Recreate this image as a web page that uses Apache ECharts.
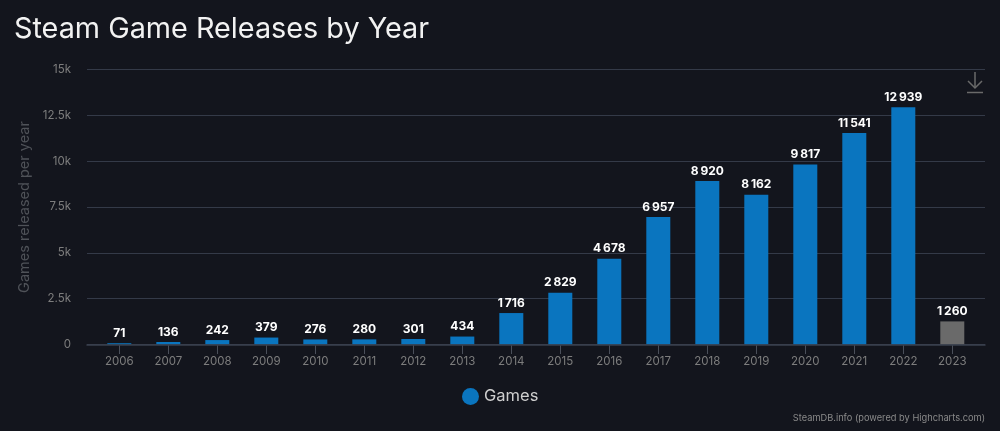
<!DOCTYPE html>
<html><head><meta charset="utf-8">
<style>html,body{margin:0;padding:0;background:#13151d}#c{width:1000px;height:431px}</style>
<script src="https://cdn.jsdelivr.net/npm/echarts@6/dist/echarts.min.js"></script>
</head><body><div id="c"></div>
<script>
const years = ['2006','2007','2008','2009','2010','2011','2012','2013','2014','2015','2016','2017','2018','2019','2020','2021','2022','2023'];
const games = [71,136,242,379,276,280,301,434,1716,2829,4678,6957,8920,8162,9817,11541,12939,1260];
const partialYear = '2023';
const fmt = v => String(v).replace(/\B(?=(\d{3})+$)/g, '\u2009');
const chart = echarts.init(document.getElementById('c'));
chart.setOption({
  backgroundColor:'#13151d',
  animation:false,
  textStyle:{fontFamily:'Inter'},
  title:[
    {text:'Steam Game Releases by Year',left:9,top:10,textStyle:{color:'#f2f2f2',fontSize:28.8,fontWeight:400,fontFamily:'Inter'}},
    {text:'SteamDB.info (powered by Highcharts.com)',right:10,top:409,textStyle:{color:'#8a8a8a',fontSize:9.25,fontWeight:400,fontFamily:'Inter'}}
  ],
  legend:{data:['Games'],left:457,top:383,icon:'circle',itemWidth:17,itemHeight:17,itemGap:5,
    textStyle:{color:'#cfcfcf',fontSize:16.5,fontFamily:'Inter'}},
  grid:[
    {left:87,right:15,top:69.5,bottom:86.5},
    {left:94.8,right:23.2,top:69.5,bottom:86.5},
    {left:119.3,right:48.2,top:345,height:9}
  ],
  xAxis:[
    {gridIndex:0,type:'value',min:0,max:1,z:3,splitLine:{show:false},
      axisLine:{show:true,onZero:false,lineStyle:{color:'#3a404e',width:1.5}},
      axisTick:{show:false},axisLabel:{show:false}},
    {gridIndex:1,type:'category',data:years,z:3,
      axisLine:{show:false,onZero:false},axisTick:{show:false},
      axisLabel:{color:'#7d7d7d',fontSize:11.5,margin:11,interval:0}},
    {gridIndex:2,type:'category',data:years,boundaryGap:false,
      axisLine:{show:false},axisTick:{show:false},axisLabel:{show:false},
      splitLine:{show:true,interval:0,lineStyle:{color:'#4a4f5a',width:1}}}
  ],
  yAxis:[
    {gridIndex:0,type:'value',min:0,max:15000,interval:2500,
      name:'Games released per year',nameLocation:'middle',nameGap:49,nameRotate:90,
      nameTextStyle:{color:'#4f5258',fontSize:14.5,fontFamily:'Inter'},
      axisLine:{show:false},axisTick:{show:false},
      splitLine:{lineStyle:{color:'#343a48',width:1}},
      axisLabel:{color:'#7d7d7d',fontSize:11.5,margin:16,formatter:v=>v===0?'0':(v/1000)+'k'}},
    {gridIndex:1,type:'value',min:0,max:15000,interval:2500,show:false,splitLine:{show:false}},
    {gridIndex:2,type:'value',min:0,max:1,show:false,splitLine:{show:false}}
  ],
  graphic:[
    {type:'polyline',shape:{points:[[975,72],[975,88]]},style:{stroke:'#6a6a6a',lineWidth:1.5,fill:null}},
    {type:'polyline',shape:{points:[[968,81],[975,88],[982,81]]},style:{stroke:'#6a6a6a',lineWidth:1.5,fill:null}},
    {type:'line',shape:{x1:967,y1:92.5,x2:983,y2:92.5},style:{stroke:'#6a6a6a',lineWidth:1.5}}
  ],
  series:[{name:'Games',type:'bar',xAxisIndex:1,yAxisIndex:1,barWidth:24,itemStyle:{color:'#0a75bf'},
    data:years.map((y,i)=>({value:games[i],itemStyle:y===partialYear?{color:'#6a6a6a'}:undefined})),
    label:{show:true,position:'top',distance:4,color:'#ffffff',fontSize:12,fontWeight:700,fontFamily:'Inter',
      formatter:p=>fmt(p.value)}}]
});
</script></body></html>
